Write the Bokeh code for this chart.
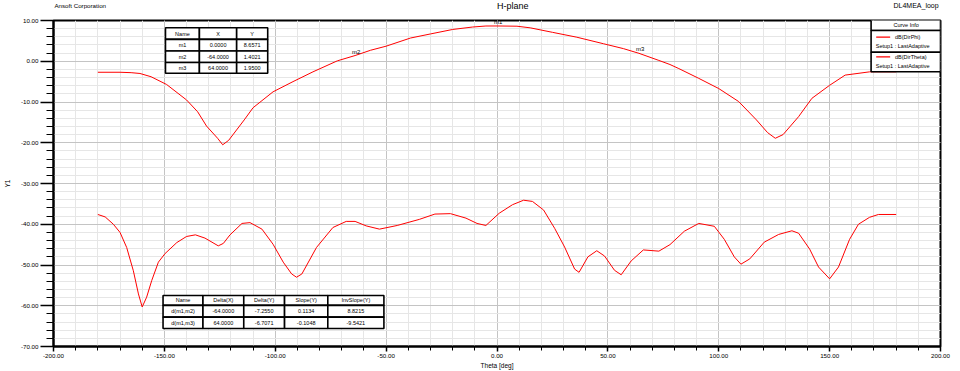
from bokeh.plotting import figure
from bokeh.layouts import column
from bokeh.embed import file_html
from bokeh.resources import INLINE
from bokeh.core.properties import value
from bokeh.models import PrintfTickFormatter, SingleIntervalTicker, Range1d

# ---------------- data ----------------
phi_theta = [-180, -170, -165, -161, -156, -149, -140, -135, -131, -126, -123.7, -121, -114, -110,
             -101, -92, -83, -72, -64, -57, -50, -39, -30, -20, -11, -5, 0, 9, 15, 25, 36, 48,
             57, 64, 73, 78, 82, 91, 100, 109, 117, 122, 125.5, 129, 136, 142, 150, 157, 168, 180]
phi_db = [-2.7, -2.7, -2.8, -3.0, -3.8, -5.7, -9.5, -12.4, -15.9, -18.9, -20.5, -19.4, -14.4, -11.4,
          -7.5, -5.0, -2.6, 0.1, 1.4021, 2.7, 3.7, 5.7, 6.7, 7.8, 8.4, 8.65, 8.6571, 8.6, 8.2, 7.1, 5.9, 4.3,
          3.1, 1.95, 0.2, -0.8, -1.8, -4.2, -6.7, -9.9, -14.4, -17.5, -18.9, -18.0, -13.6, -9.1, -5.9, -3.4, -2.6, -2.6]

th_theta = [-180, -176.7, -173, -170, -167, -164, -161.7, -160, -158, -155.7, -152.7, -149.7, -144.4,
            -140, -136, -131.7, -125.7, -123.4, -120.4, -115, -111.4, -106, -101, -96.4, -92.6, -90.4,
            -88, -81.4, -74, -68, -64, -59, -53, -45, -35, -28, -21, -14, -9, -5, 1, 7, 12, 16, 21, 26,
            30.5, 35, 37, 41, 45, 48.5, 53, 56, 60.5, 66, 73, 78, 84.5, 91, 98, 102.5, 107, 110, 114,
            120.5, 127, 133, 136, 141, 145, 150, 154, 159, 163, 168, 172, 180]
th_db = [-37.6, -38.2, -40.0, -42.0, -45.7, -51.4, -57.1, -60.3, -57.9, -53.8, -49.3, -47.2, -44.5,
         -43.0, -42.6, -43.4, -45.3, -44.7, -42.6, -39.8, -39.6, -41.2, -44.9, -49.3, -52.2, -53.0,
         -52.2, -45.7, -40.8, -39.3, -39.3, -40.4, -41.2, -40.3, -38.8, -37.5, -37.4, -38.5, -39.8, -40.3,
         -37.3, -35.2, -34.1, -34.4, -36.5, -41.0, -45.6, -51.0, -51.8, -48.0, -46.5, -47.8, -51.3, -52.4,
         -49.0, -46.3, -46.6, -45.0, -41.7, -39.8, -40.5, -43.7, -48.0, -49.8, -48.5, -44.4, -42.5, -41.6,
         -42.2, -46.1, -50.5, -53.4, -50.5, -43.7, -40.0, -38.3, -37.6, -37.6]

marker_names = ["m1", "m2", "m3"]
marker_x = [0.0, -64.0, 64.0]
marker_y = [8.6571, 1.4021, 1.9500]
marker_header = ["Name", "X", "Y"]

delta_header = ["Name", "Delta(X)", "Delta(Y)", "Slope(Y)", "InvSlope(Y)"]
delta_names = ["d(m1,m2)", "d(m1,m3)"]
delta_x = [-64.0, 64.0]
delta_y = [-7.2550, -6.7071]
delta_slope = [0.1134, -0.1048]
delta_inv = [8.8215, -9.5421]

curve_names = ["dB(DirPhi)", "dB(DirTheta)"]
curve_setup = ["Setup1 : LastAdaptive", "Setup1 : LastAdaptive"]

header_texts = ["Ansoft Corporation", "H-plane", "DL4MEA_loop"]

x_ticks_interval = 50
y_ticks_interval = 10

FONT = "Liberation Sans"
RED = "#ff0000"

W = 960
HEAD_H = 14
MAIN_H = 357

# ---------------- header strip (its own small figure) ----------------
head = figure(width=W, height=HEAD_H, output_backend="svg", toolbar_location=None,
              x_range=Range1d(0, W), y_range=Range1d(0, HEAD_H),
              x_axis_type=None, y_axis_type=None,
              min_border=0, min_border_left=0, min_border_right=0, min_border_top=0, min_border_bottom=0,
              background_fill_color="white", border_fill_color="white", outline_line_color=None)
head.xgrid.visible = False
head.ygrid.visible = False
head.text(x=[1], y=[9], text=[header_texts[0]], text_font=value(FONT), text_font_size="6.2px",
          text_color="black", text_align="left", text_baseline="middle")
head.text(x=[497], y=[8.5], text=[header_texts[1]], text_font=value(FONT), text_font_size="9px",
          text_color="black", text_align="center", text_baseline="middle")
head.text(x=[958], y=[9], text=[header_texts[2]], text_font=value(FONT), text_font_size="7px",
          text_color="black", text_align="right", text_baseline="middle")

# ---------------- main figure ----------------
p = figure(width=W, height=MAIN_H, output_backend="svg", toolbar_location=None,
           x_range=Range1d(-200, 200), y_range=Range1d(-70, 10),
           min_border_left=53, min_border_right=20, min_border_top=6, min_border_bottom=23,
           background_fill_color="white", border_fill_color="white")

p.outline_line_color = "black"
p.outline_line_width = 2

p.xaxis.ticker = SingleIntervalTicker(interval=x_ticks_interval, num_minor_ticks=5)
p.yaxis.ticker = SingleIntervalTicker(interval=y_ticks_interval, num_minor_ticks=5)
p.xaxis.formatter = PrintfTickFormatter(format="%.2f")
p.yaxis.formatter = PrintfTickFormatter(format="%.2f")

for ax in (p.xaxis, p.yaxis):
    ax.axis_line_color = "black"
    ax.axis_line_width = 2
    ax.major_tick_line_color = "black"
    ax.minor_tick_line_color = "black"
    ax.major_tick_line_width = 1.5
    ax.minor_tick_line_width = 1
    ax.major_tick_in = 0
    ax.minor_tick_in = 0
    ax.major_label_text_font = FONT
    ax.major_label_text_font_size = "6.2px"
    ax.major_label_text_color = "black"
    ax.axis_label_text_font = FONT
    ax.axis_label_text_font_size = "6.5px"
    ax.axis_label_text_font_style = "normal"
    ax.axis_label_text_color = "black"
    ax.major_label_standoff = 2
    ax.axis_label_standoff = 1

p.yaxis.major_tick_out = 13
p.yaxis.minor_tick_out = 7
p.xaxis.major_tick_out = 5
p.xaxis.minor_tick_out = 4
p.xaxis.axis_label = "Theta [deg]"
p.yaxis.axis_label = "Y1"
p.yaxis.axis_label_standoff = 7

p.xgrid.grid_line_color = "#c4c4c4"
p.ygrid.grid_line_color = "#c4c4c4"
p.xgrid.minor_grid_line_color = "#e6e6e6"
p.ygrid.minor_grid_line_color = "#e6e6e6"
p.xgrid.grid_line_width = 1
p.ygrid.grid_line_width = 1

# ---------------- curves ----------------
p.line(phi_theta, phi_db, line_color=RED, line_width=1.0)
p.line(th_theta, th_db, line_color=RED, line_width=1.0)

# marker labels
p.text(x=marker_x, y=marker_y, text=marker_names, text_font=value(FONT), text_font_size="6px",
       text_color="black", text_align="left", text_baseline="bottom", x_offset=-3, y_offset=-1)

# ---------------- tables ----------------
def draw_table(xe, ye, rows, fs="5.5px"):
    L, R, T, B, tx, ty, tt = [], [], [], [], [], [], []
    for r, row in enumerate(rows):
        for c, txt in enumerate(row):
            L.append(xe[c]); R.append(xe[c + 1]); T.append(ye[r]); B.append(ye[r + 1])
            tx.append((xe[c] + xe[c + 1]) / 2); ty.append((ye[r] + ye[r + 1]) / 2); tt.append(txt)
    p.quad(left=L, right=R, top=T, bottom=B, fill_color="white", line_color="black", line_width=1.6)
    p.text(x=tx, y=ty, text=tt, text_font=value(FONT), text_font_size=fs, text_color="black",
           text_align="center", text_baseline="middle")

m_rows = [marker_header] + [[n, f"{x:.4f}", f"{y:.4f}"] for n, x, y in zip(marker_names, marker_x, marker_y)]
draw_table([-149.5, -134.2, -117.4, -103.4], [8.22, 5.37, 2.51, -0.32, -2.93], m_rows)

d_rows = [delta_header] + [[n, f"{a:.4f}", f"{b:.4f}", f"{c:.4f}", f"{d:.4f}"]
                           for n, a, b, c, d in zip(delta_names, delta_x, delta_y, delta_slope, delta_inv)]
draw_table([-150.6, -132.6, -114.2, -95.8, -76.3, -51.0], [-57.5, -59.9, -62.8, -65.6], d_rows)

# ---------------- curve info box ----------------
lx0, lx1 = 168.7, 200.0
p.quad(left=[lx0] * 3, right=[lx1] * 3, top=[10.5, 7.56, 2.2], bottom=[7.56, 2.2, -2.56],
       fill_color="white", line_color="black", line_width=1.6)
p.text(x=[184.5], y=[8.8], text=["Curve Info"], text_font=value(FONT), text_font_size="5.5px",
       text_color="black", text_align="center", text_baseline="middle")
entry_y = [5.93, 1.05]
setup_y = [3.73, -1.15]
p.segment(x0=[171.0] * 2, y0=entry_y, x1=[177.3] * 2, y1=entry_y, line_color=RED, line_width=1.2)
p.text(x=[179.5] * 2, y=entry_y, text=curve_names, text_font=value(FONT), text_font_size="5.5px",
       text_color="black", text_align="left", text_baseline="middle")
p.text(x=[170.8] * 2, y=setup_y, text=curve_setup, text_font=value(FONT), text_font_size="5.5px",
       text_color="black", text_align="left", text_baseline="middle")

layout = column(head, p, spacing=0)
open("out.html", "w").write(file_html(layout, INLINE))
